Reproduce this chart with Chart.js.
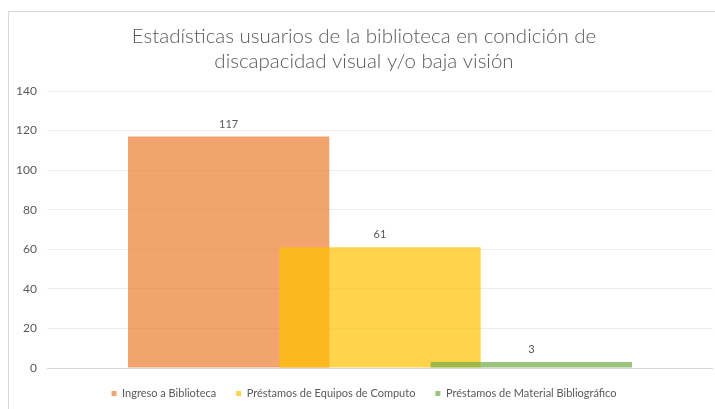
<!DOCTYPE html>
<html>
<head>
<meta charset="utf-8">
<script src="https://cdn.jsdelivr.net/npm/chart.js@4"></script>
<style>
  html, body { margin: 0; padding: 0; background: #fff; }
  #wrap { width: 715px; height: 409px; }
</style>
</head>
<body>
<div id="wrap"><canvas id="miGrafica"></canvas></div>
<script>
// Datos
const titulo = ['Estadísticas usuarios de la biblioteca en condición de', 'discapacidad visual y/o baja visión'];
const categorias = ['Ingreso a Biblioteca', 'Préstamos de Equipos de Computo', 'Préstamos de Material Bibliográfico'];
const valores = [117, 61, 3];
const colores = ['rgba(237,125,49,0.7)', 'rgba(255,192,0,0.7)', 'rgba(112,173,71,0.7)'];
const ejeY = { min: 0, max: 140, paso: 20 };

const gris = '#595959';
const fuente = 'Lato, "Open Sans", sans-serif';

// un dataset por categoria, para que se solapen como en el original
const datasets = categorias.map((nombre, i) => ({
    label: nombre,
    data: [{ x: i + 1, y: valores[i] }],
    backgroundColor: colores[i],
    borderWidth: 0,
    order: categorias.length - i   // el ultimo queda encima
}));

// marco gris alrededor del grafico
const marco = {
    id: 'marco',
    beforeDraw(chart) {
        const ctx = chart.ctx;
        ctx.save();
        ctx.strokeStyle = '#d9d9d9';
        ctx.lineWidth = 1;
        ctx.strokeRect(8.5, 11.5, chart.width + 10, chart.height + 10);
        ctx.restore();
    }
};

// etiquetas de valor encima de cada barra
const etiquetas = {
    id: 'etiquetas',
    afterDatasetsDraw(chart) {
        const ctx = chart.ctx;
        ctx.save();
        ctx.font = '11px ' + fuente;
        ctx.fillStyle = gris;
        ctx.textAlign = 'center';
        ctx.textBaseline = 'middle';
        chart.data.datasets.forEach((ds, i) => {
            chart.getDatasetMeta(i).data.forEach((bar, j) => {
                ctx.fillText(ds.data[j].y, bar.x, bar.y - 12.5);
            });
        });
        ctx.restore();
    }
};

const ctx = document.getElementById('miGrafica').getContext('2d');
new Chart(ctx, {
    type: 'bar',
    data: { datasets: datasets },
    options: {
        responsive: true,
        maintainAspectRatio: false,
        animation: false,
        grouped: false,
        categoryPercentage: 1,
        barPercentage: 1.33,
        layout: { padding: { left: 15, right: 2, top: 0, bottom: 0 } },
        plugins: {
            title: {
                display: true,
                text: titulo,
                color: gris,
                font: { family: fuente, size: 20.5, weight: '300', lineHeight: 1.22 },
                padding: { top: 23.5, bottom: 17.5 }
            },
            legend: {
                position: 'bottom',
                labels: {
                    color: gris,
                    font: { family: fuente, size: 11 },
                    boxWidth: 5,
                    boxHeight: 5,
                    padding: 20,
                    sort: (a, b) => a.datasetIndex - b.datasetIndex
                }
            },
            tooltip: { enabled: false }
        },
        scales: {
            x: {
                type: 'linear',
                display: false,
                offset: false,
                min: -0.2,
                max: 4.2,
                ticks: { stepSize: 1, includeBounds: false }
            },
            y: {
                min: ejeY.min,
                max: ejeY.max,
                ticks: { stepSize: ejeY.paso, color: gris, padding: 10, font: { family: fuente, size: 12 } },
                grid: {
                    drawTicks: false,
                    color: c => c.tick.value === 0 ? '#d9d9d9' : '#ededed'
                },
                border: { display: false },
                afterFit: s => { s.width = 32; }
            }
        }
    },
    plugins: [marco, etiquetas]
});
</script>
</body>
</html>
